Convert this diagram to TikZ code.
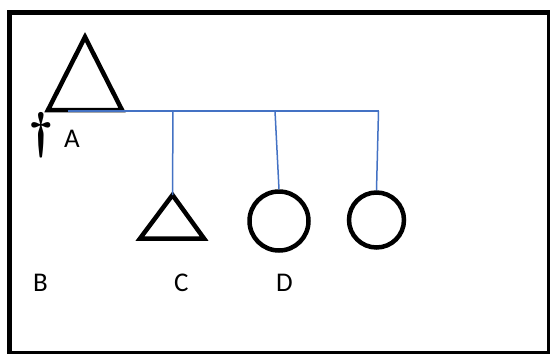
\documentclass[tikz,border=0pt]{standalone}
\usepackage{fontspec}
\newfontfamily\lblfont{Carlito}
\definecolor{linkblue}{RGB}{68,114,196}
\begin{document}
\begin{tikzpicture}[x=1pt,y=-1pt,
  edgeline/.style={draw=black,line width=#1},
  figshape/.style={draw=black,line width=4.5pt,line join=miter,miter limit=10},
  link/.style={draw=linkblue,line width=1.5pt},
  lbl/.style={font=\lblfont\fontsize{27}{27}\selectfont,inner sep=0pt,anchor=base west}]
\useasboundingbox (0,0) rectangle (551,354);
\fill[white] (0,0) rectangle (551,354);
% frame
\draw[edgeline=5pt] (9.5,10) -- (9.5,354);
\draw[edgeline=5pt] (7,12.5) -- (550,12.5);
\draw[edgeline=3pt] (548.5,10) -- (548.5,354);
\draw[edgeline=3pt] (7,352) -- (550,352);
% big triangle A
\coordinate (aTop) at (85,37);
\coordinate (aR) at (122,110);
\coordinate (aL) at (48,110);
\draw[figshape] (aTop) -- (aR) -- (aL) -- cycle;
% small triangle C
\coordinate (cTop) at (172.5,195);
\coordinate (cR) at (204,238.5);
\coordinate (cL) at (140,238.5);
\draw[figshape] (cTop) -- (cR) -- (cL) -- cycle;
% circles
\node[draw=black,line width=4.5pt,circle,minimum size=59pt,inner sep=0pt] (d1) at (279,221) {};
\node[draw=black,line width=4.5pt,circle,minimum size=55pt,inner sep=0pt] (d2) at (376.5,220) {};
% connectors
\coordinate (busL) at (68,111);
\coordinate (bus1) at (173,111);
\coordinate (bus2) at (275,111);
\coordinate (bus3) at (378.5,111);
\draw[link] (busL) -- (bus3);
\draw[link] (bus1) -- (cTop);
\draw[link] (bus2) -- (d1.north);
\draw[link] (bus3) -- (d2.north);
% dagger
\node[font=\bfseries\fontsize{50}{50}\selectfont,inner sep=0pt,anchor=base] (dag) at (41.5,147) {\textdagger};
% labels
\node[lbl] (la) at (64,147) {A};
\node[lbl] (lb) at (33,291) {B};
\node[lbl] (lc) at (174,291) {C};
\node[lbl] (ld) at (276,291) {D};
\end{tikzpicture}
\end{document}
